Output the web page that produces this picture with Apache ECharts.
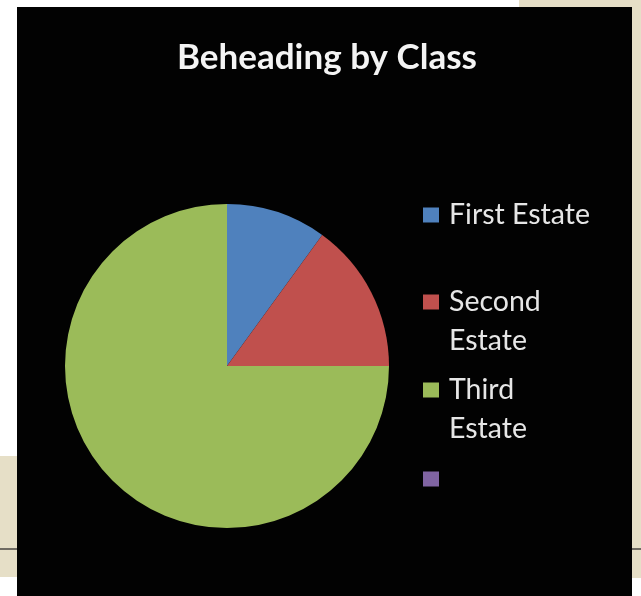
<!DOCTYPE html>
<html>
<head>
<meta charset="utf-8">
<script src="https://cdn.jsdelivr.net/npm/echarts@6/dist/echarts.min.js"></script>
<style>
html,body{margin:0;padding:0;background:#fff;}
#chart{width:641px;height:596px;}
</style>
</head>
<body>
<div id="chart"></div>
<script>
// ---- data ----
var categories = ['First Estate', 'Second Estate', 'Third Estate', ' '];
var legendLabels = ['First Estate', 'Second\nEstate', 'Third\nEstate', ' '];
var values = [10, 15, 75, 0];
var colors = ['#4F81BD', '#C0504D', '#9BBB59', '#8064A2'];
var titleText = 'Beheading by Class';

// ---- layout ----
var LH = 39;
var legendIconCenters = [215, 302, 390, 479];

function labelFor(name) {
  var i = categories.indexOf(name);
  return legendLabels[i];
}
function displayText(name) {
  var lbl = labelFor(name);
  var lines = lbl.split('\n');
  if (lines.length === 2) return ' \n' + lbl; // put first line at icon level
  return lbl;
}

var legends = categories.map(function (name, i) {
  var nLines = displayText(name).split('\n').length;
  var iconH = 15;
  var top = legendIconCenters[i] - (nLines * LH) / 2;
  return {
    data: [name],
    orient: 'vertical',
    left: 423,
    top: top,
    padding: 0,
    itemWidth: 16,
    itemHeight: iconH,
    icon: 'rect',
    selectedMode: false,
    formatter: displayText,
    textStyle: {
      color: '#e6e6e6',
      fontFamily: 'Lato',
      fontSize: 28.5,
      lineHeight: LH,
      padding: [0, 0, 0, 5]
    }
  };
});

var chart = echarts.init(document.getElementById('chart'), null, {renderer: 'canvas'});
chart.setOption({
  backgroundColor: '#ffffff',
  animation: false,
  color: colors,
  graphic: [
    {type: 'rect', shape: {x: 519, y: 0, width: 122, height: 8}, style: {fill: '#E6DFC7'}, z: 0},
    {type: 'rect', shape: {x: 632, y: 0, width: 9, height: 578}, style: {fill: '#E6DFC7'}, z: 0},
    {type: 'rect', shape: {x: 0, y: 456, width: 17, height: 121}, style: {fill: '#E6DFC7'}, z: 0},
    {type: 'rect', shape: {x: 0, y: 548, width: 17, height: 2}, style: {fill: '#6f6b62'}, z: 1},
    {type: 'rect', shape: {x: 632, y: 548, width: 9, height: 2}, style: {fill: '#6f6b62'}, z: 1},
    {type: 'rect', shape: {x: 17, y: 7, width: 615, height: 589}, style: {fill: '#020202'}, z: 2}
  ],
  title: {
    text: titleText,
    left: 322,
    textAlign: 'center',
    top: 35,
    textStyle: {
      color: '#f4f4f4',
      fontFamily: 'Lato',
      fontWeight: 'bold',
      fontSize: 35
    }
  },
  legend: legends,
  series: [{
    type: 'pie',
    center: [227, 366],
    radius: 162,
    startAngle: 90,
    clockwise: true,
    label: {show: false},
    labelLine: {show: false},
    silent: true,
    itemStyle: {borderWidth: 0},
    emphasis: {disabled: true},
    data: categories.map(function (name, i) {
      return {name: name, value: values[i]};
    })
  }]
});
</script>
</body>
</html>
